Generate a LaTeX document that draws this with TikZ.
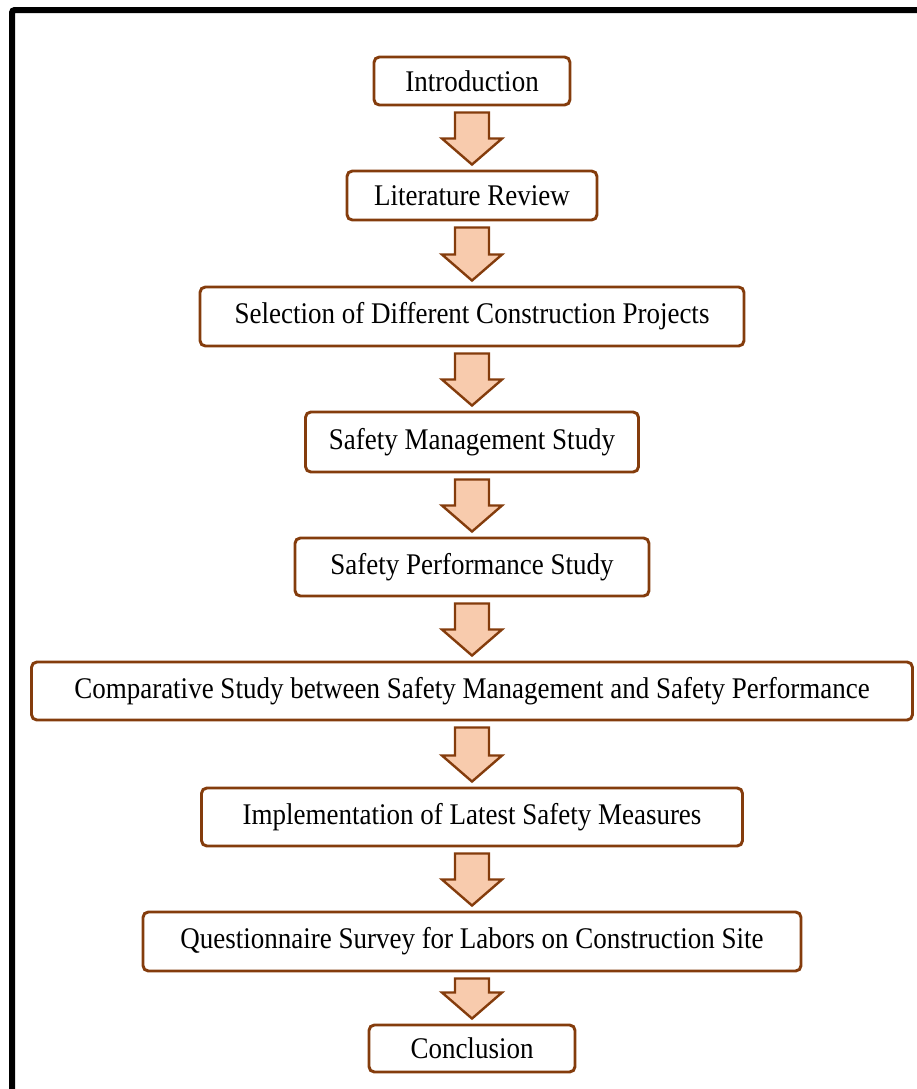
\documentclass[tikz,border=0pt]{standalone}
\usepackage{fontspec}
\setmainfont[FakeStretch=0.9]{Liberation Serif}
\usetikzlibrary{calc}

\definecolor{boxbrown}{RGB}{132,60,12}
\definecolor{peach}{RGB}{248,203,173}

\tikzset{every picture/.style={line width=0.75pt}}
\tikzset{
  stage/.style={draw=boxbrown, line width=2.2pt, rounded corners=4pt, fill=white,
    inner sep=0pt, font=\fontsize{22.5}{26}\selectfont},
  blockarrow/.style={draw=boxbrown, line width=1.8pt, fill=peach, line join=miter}
}

% block arrow from the bottom of one box to the top of the next
\newcommand{\flowarrow}[2]{%
  \draw[blockarrow] ($(#1.south)+(-17,6)$) -- ($(#1.south)+(17,6)$)
    -- ($(#2.north)+(17,-31)$) -- ($(#2.north)+(30,-31)$) -- ($(#2.north)+(0,-5)$)
    -- ($(#2.north)+(-30,-31)$) -- ($(#2.north)+(-17,-31)$) -- cycle;}

\begin{document}
\begin{tikzpicture}[x=0.75pt,y=0.75pt,yscale=-1,xscale=1]
\useasboundingbox (0,0) rectangle (917,1089);
% Frame
\draw[line width=4.5pt, rounded corners=2pt] (12,1120) -- (12,10) -- (940,10);

% Boxes
\node[stage, minimum width=147pt, minimum height=36pt] (intro) at (472,81) {Introduction};
\node[stage, minimum width=187.5pt, minimum height=36.75pt] (litrev) at (472,195.5) {Literature Review};
\node[stage, minimum width=408pt, minimum height=44.25pt] (select) at (472,316.5) {Selection of Different Construction Projects};
\node[stage, minimum width=249.75pt, minimum height=45pt] (mgmt) at (472,442) {Safety Management Study};
\node[stage, minimum width=265.5pt, minimum height=43.5pt] (perf) at (472,567) {Safety Performance Study};
\node[stage, minimum width=660.75pt, minimum height=43.5pt] (compare) at (472,691) {Comparative Study between Safety Management and Safety Performance};
\node[stage, minimum width=405.75pt, minimum height=43.5pt] (implement) at (472,817) {Implementation of Latest Safety Measures};
\node[stage, minimum width=493.5pt, minimum height=44.25pt] (survey) at (472,941.5) {Questionnaire Survey for Labors on Construction Site};
\node[stage, minimum width=154.5pt, minimum height=35.25pt] (concl) at (472,1048.5) {Conclusion};

% Arrows
\flowarrow{intro}{litrev}
\flowarrow{litrev}{select}
\flowarrow{select}{mgmt}
\flowarrow{mgmt}{perf}
\flowarrow{perf}{compare}
\flowarrow{compare}{implement}
\flowarrow{implement}{survey}
\flowarrow{survey}{concl}
\end{tikzpicture}
\end{document}
